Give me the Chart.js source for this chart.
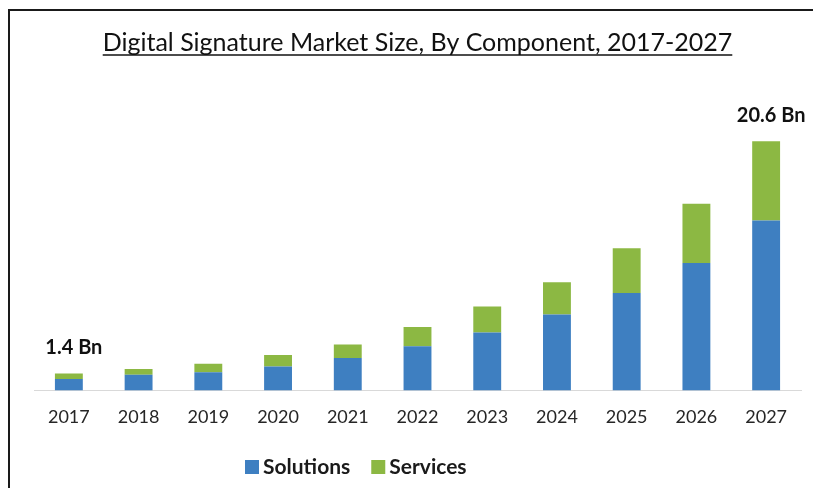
<!DOCTYPE html>
<html>
<head>
<meta charset="utf-8">
<script src="https://cdn.jsdelivr.net/npm/chart.js@4.4.1/dist/chart.umd.min.js"></script>
<style>
  body { margin: 0; background: #fff; }
  canvas { display: block; }
</style>
</head>
<body>
<canvas id="chart" width="813" height="488"></canvas>
<script>
  // data (Bn USD)
  const years = ["2017", "2018", "2019", "2020", "2021", "2022", "2023", "2024", "2025", "2026", "2027"];
  const solutions = [0.95, 1.30, 1.51, 1.98, 2.67, 3.64, 4.79, 6.28, 8.04, 10.52, 14.05];
  const services = [0.45, 0.46, 0.70, 0.94, 1.13, 1.59, 2.15, 2.65, 3.70, 4.91, 6.55];
  const title = "Digital Signature Market Size, By Component, 2017-2027";

  const FONT = "Lato, 'Open Sans', sans-serif";

  // border, title, value labels and legend
  const decor = {
    id: "decor",
    beforeDraw(chart) {
      const c = chart.ctx;
      c.save();
      c.fillStyle = "#fff";
      c.fillRect(0, 0, chart.width, chart.height);
      c.strokeStyle = "#1a1a1a";
      c.lineWidth = 2;
      c.beginPath();
      c.moveTo(9, chart.height);
      c.lineTo(9, 10);
      c.lineTo(chart.width, 10);
      c.stroke();
      c.restore();
    },
    afterDraw(chart) {
      const c = chart.ctx;
      const area = chart.chartArea;
      c.save();

      // title, underlined
      c.font = "25px " + FONT;
      c.fillStyle = "#111";
      c.textAlign = "center";
      c.textBaseline = "alphabetic";
      const tx = (area.left + area.right) / 2;
      c.fillText(title, tx, 51);
      const w = c.measureText(title).width;
      c.strokeStyle = "#111";
      c.lineWidth = 1.5;
      c.beginPath();
      c.moveTo(tx - w / 2, 55);
      c.lineTo(tx + w / 2, 55);
      c.stroke();

      // totals on first and last bar
      const top = chart.getDatasetMeta(1).data;
      c.font = "bold 20px " + FONT;
      [0, years.length - 1].forEach((i) => {
        const total = solutions[i] + services[i];
        c.fillText(total.toFixed(1) + " Bn", top[i].x + 5, top[i].y - 19);
      });

      // legend
      c.font = "bold 21px " + FONT;
      c.textAlign = "left";
      c.textBaseline = "middle";
      let x = 245;
      const y = 467;
      chart.data.datasets.forEach((ds) => {
        c.fillStyle = ds.backgroundColor;
        c.fillRect(x, y - 7, 14, 14);
        c.fillStyle = "#1a1a1a";
        c.fillText(ds.label, x + 18, y);
        x += 18 + c.measureText(ds.label).width + 21;
      });
      c.restore();
    },
  };

  new Chart(document.getElementById("chart"), {
    type: "bar",
    data: {
      labels: years,
      datasets: [
        { label: "Solutions", data: solutions, backgroundColor: "#3e7fc1" },
        { label: "Services", data: services, backgroundColor: "#8cb843" },
      ],
    },
    options: {
      responsive: false,
      animation: false,
      layout: { padding: { left: 34, right: 12, top: 100, bottom: 52 } },
      datasets: { bar: { barPercentage: 0.8, categoryPercentage: 0.5 } },
      plugins: { legend: { display: false }, title: { display: false }, tooltip: { enabled: false } },
      scales: {
        x: {
          stacked: true,
          grid: { display: false },
          border: { display: true, color: "#d9d9d9", width: 1 },
          ticks: { padding: 8, color: "#262626", font: { family: FONT, size: 18 } },
        },
        y: {
          stacked: true,
          display: false,
          min: 0,
          max: 24,
        },
      },
    },
    plugins: [decor],
  });
</script>
</body>
</html>
